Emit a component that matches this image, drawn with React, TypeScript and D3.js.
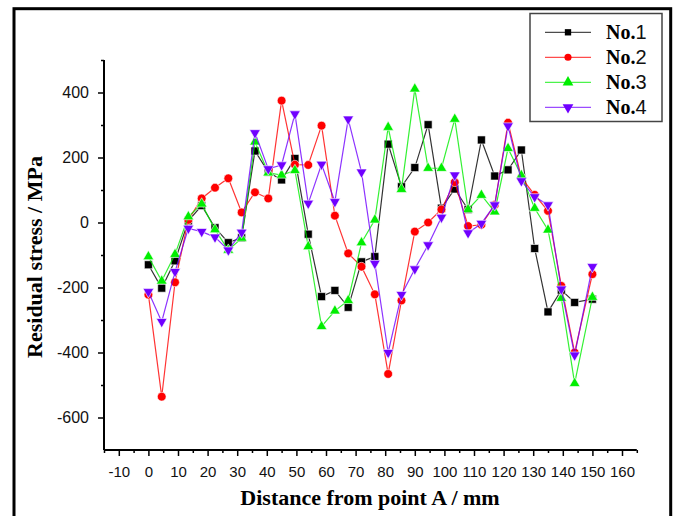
import { useEffect, useRef } from "react";
import * as d3 from "d3";

// distance from point A (mm)
const distance = [0, 4.5, 9, 13.5, 18, 22.5, 27, 31.5, 36, 40.5, 45, 49.5, 54, 58.5, 63, 67.5, 72, 76.5, 81, 85.5, 90, 94.5, 99, 103.5, 108, 112.5, 117, 121.5, 126, 130.5, 135, 139.5, 144, 150];

// residual stress (MPa)
const no1 = [-130, -202, -118, 5, 52, -16, -62, -47, 220, 155, 131, 197, -36, -228, -209, -261, -121, -105, 241, 110, 169, 301, 44, 103, 40, 254, 143, 162, 223, -80, -275, -208, -246, -236];
const no2 = [-222, -536, -184, 8, 74, 107, 136, 31, 93, 74, 375, 178, 177, 298, 21, -95, -136, -221, -466, -240, -28, 0, 40, 124, -11, -7, 54, 307, 138, 85, 36, -195, -400, -159];
const no3 = [-105, -180, -98, 18, 57, -22, -85, -48, 248, 153, 146, 160, -74, -320, -272, -240, -62, 8, 293, 102, 411, 167, 167, 318, 40, 84, 33, 228, 145, 44, -23, -233, -495, -230];
const no4 = [-213, -305, -151, -18, -28, -45, -85, -30, 276, 165, 177, 334, 59, 179, 64, 318, 155, -126, -400, -222, -143, -69, 16, 146, -32, -3, 54, 297, 128, 79, 54, -205, -408, -136];

const seriesNames = ["1", "2", "3", "4"];
const xTicks = [-10, 0, 10, 20, 30, 40, 50, 60, 70, 80, 90, 100, 110, 120, 130, 140, 150, 160];
const xMinorTicks = [-15, -5, 5, 15, 25, 35, 45, 55, 65, 75, 85, 95, 105, 115, 125, 135, 145, 155, 165];
const yTicks = [-600, -400, -200, 0, 200, 400];
const yMinorTicks = [-500, -300, -100, 100, 300, 500];

export default function App() {
  const svgRef = useRef(null);

  useEffect(() => {
    const svg = d3.select(svgRef.current);
    svg.selectAll("*").remove();

    const x = d3.scaleLinear().domain([-15, 165]).range([104, 636.8]);
    const y = d3.scaleLinear().domain([-700, 500]).range([450, 60]);

    // outer frame
    svg.append("rect")
      .attr("x", 14).attr("y", 8.7)
      .attr("width", 656.7).attr("height", 540)
      .attr("fill", "none")
      .attr("stroke", "#000")
      .attr("stroke-width", 3);

    const sans = "'Liberation Sans', Arial, sans-serif";
    const serif = "'Liberation Serif', 'Times New Roman', serif";
    const plain = (d: number) => String(d); // keep a plain hyphen for negatives

    // y axis
    const yAxis = svg.append("g")
      .attr("transform", "translate(104,0)")
      .call(d3.axisLeft(y).tickValues(yTicks).tickSize(6).tickPadding(9).tickFormat(plain));
    yAxis.select(".domain").attr("stroke-width", 2).attr("d", `M-0,${y(500)}V${y(-700)}`);
    yAxis.selectAll(".tick line").attr("stroke-width", 1.5);
    yAxis.selectAll("text").style("font-family", sans).style("font-size", "16px").attr("fill", "#111");

    svg.append("g")
      .attr("transform", "translate(104,0)")
      .call(d3.axisLeft(y).tickValues(yMinorTicks).tickSize(3).tickFormat(() => ""))
      .call(g => g.select(".domain").remove())
      .selectAll(".tick line").attr("stroke-width", 1.5);

    // x axis
    const xAxis = svg.append("g")
      .attr("transform", "translate(0,450)")
      .call(d3.axisBottom(x).tickValues(xTicks).tickSize(6).tickPadding(10).tickFormat(plain));
    xAxis.select(".domain").attr("stroke-width", 2).attr("d", `M${x(-15)},0H${x(165)}`);
    xAxis.selectAll(".tick line").attr("stroke-width", 1.5);
    xAxis.selectAll("text").style("font-family", sans).style("font-size", "15px").attr("fill", "#111");

    svg.append("g")
      .attr("transform", "translate(0,450)")
      .call(d3.axisBottom(x).tickValues(xMinorTicks).tickSize(3).tickFormat(() => ""))
      .call(g => g.select(".domain").remove())
      .selectAll(".tick line").attr("stroke-width", 1.5);

    // axis titles
    svg.append("text")
      .attr("x", 370)
      .attr("y", 505)
      .attr("text-anchor", "middle")
      .style("font-family", serif)
      .style("font-weight", "bold")
      .style("font-size", "22px")
      .text("Distance from point A / mm");

    svg.append("text")
      .attr("transform", "translate(42,257) rotate(-90)")
      .attr("text-anchor", "middle")
      .style("font-family", serif)
      .style("font-weight", "bold")
      .style("font-size", "22px")
      .text("Residual stress / MPa");

    const series = [
      { values: no1, color: "#000000", symbol: d3.symbolSquare, size: 64, rot: 0 },
      { values: no2, color: "#ff0000", symbol: d3.symbolCircle, size: 60, rot: 0 },
      { values: no3, color: "#00ee00", symbol: d3.symbolTriangle, size: 50, rot: 0 },
      { values: no4, color: "#7000ff", symbol: d3.symbolTriangle, size: 50, rot: 180 },
    ];

    const line = d3.line<number>()
      .x((d, i) => x(distance[i]))
      .y(d => y(d));

    series.forEach(s => {
      const g = svg.append("g");
      g.append("path")
        .attr("d", line(s.values))
        .attr("fill", "none")
        .attr("stroke", s.color)
        .attr("stroke-opacity", 0.8)
        .attr("stroke-width", 1.2);

      g.selectAll("path.mk")
        .data(s.values)
        .join("path")
        .attr("class", "mk")
        .attr("d", d3.symbol(s.symbol, s.size)())
        .attr("transform", (d, i) => `translate(${x(distance[i])},${y(d)}) rotate(${s.rot})`)
        .attr("fill", s.color)
        .attr("stroke", "#fff")
        .attr("stroke-width", 0.6);
    });

    // legend
    const legend = svg.append("g");
    legend.append("rect")
      .attr("x", 530).attr("y", 13.5)
      .attr("width", 132).attr("height", 108)
      .attr("fill", "#fff")
      .attr("stroke", "#444")
      .attr("stroke-width", 1.5);

    const rows = legend.selectAll("g.row")
      .data(series)
      .join("g")
      .attr("class", "row")
      .attr("transform", (d, i) => `translate(0,${32.3 + i * 25})`);

    rows.append("line")
      .attr("x1", 545).attr("x2", 591)
      .attr("y1", 0).attr("y2", 0)
      .attr("stroke", d => d.color)
      .attr("stroke-opacity", 0.7)
      .attr("stroke-width", 1.2);

    rows.append("path")
      .attr("d", d => d3.symbol(d.symbol, d.symbol === d3.symbolTriangle ? d.size : 40)())
      .attr("transform", d => `translate(568,0) rotate(${d.rot})`)
      .attr("fill", d => d.color);

    const label = rows.append("text")
      .attr("x", 606)
      .attr("y", 7);
    label.append("tspan")
      .style("font-family", serif)
      .style("font-weight", "bold")
      .style("font-size", "20px")
      .text("No.");
    label.append("tspan")
      .style("font-family", sans)
      .style("font-size", "20px")
      .attr("fill", "#111")
      .text((d, i) => seriesNames[i]);
  }, []);

  return (
    <svg
      ref={svgRef}
      width={675}
      height={516}
      style={{ position: "absolute", left: 0, top: 0, background: "#fff", display: "block" }}
    />
  );
}
